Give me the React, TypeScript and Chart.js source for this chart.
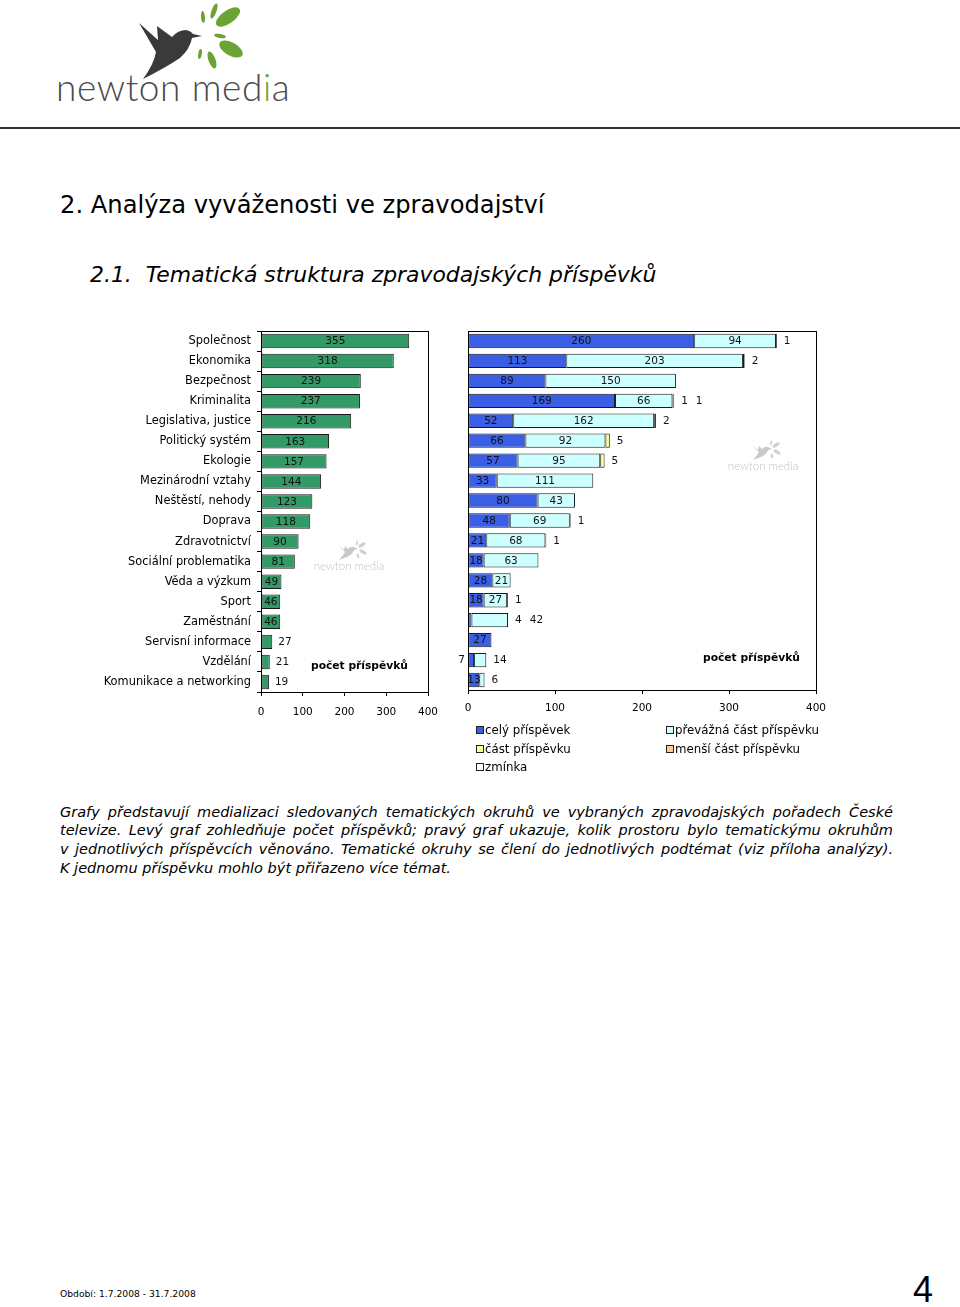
import React, { useEffect, useRef } from 'react';
import { Chart, registerables } from 'chart.js';

Chart.register(...registerables);

// ---------------- data ----------------
const CATEGORIES = [
  'Společnost', 'Ekonomika', 'Bezpečnost', 'Kriminalita', 'Legislativa, justice',
  'Politický systém', 'Ekologie', 'Mezinárodní vztahy', 'Neštěstí, nehody', 'Doprava',
  'Zdravotnictví', 'Sociální problematika', 'Věda a výzkum', 'Sport', 'Zaměstnání',
  'Servisní informace', 'Vzdělání', 'Komunikace a networking',
];
const POCET = [355, 318, 239, 237, 216, 163, 157, 144, 123, 118, 90, 81, 49, 46, 46, 27, 21, 19];
const CELY = [260, 113, 89, 169, 52, 66, 57, 33, 80, 48, 21, 18, 28, 18, 4, 27, 7, 13];
const PREVAZNA = [94, 203, 150, 66, 162, 92, 95, 111, 43, 69, 68, 63, 21, 27, 42, 0, 14, 6];
const CAST = [0, 0, 0, 1, 0, 5, 5, 0, 0, 0, 0, 0, 0, 0, 0, 0, 0, 0];
const MENSI = [0, 0, 0, 0, 0, 0, 0, 0, 0, 0, 0, 0, 0, 0, 0, 0, 0, 0];
const ZMINKA = [1, 2, 0, 1, 2, 0, 0, 0, 0, 1, 1, 0, 0, 1, 0, 0, 0, 0];
const X_TICKS = [0, 100, 200, 300, 400];
const SERIES_NAMES = ['celý příspěvek', 'převážná část příspěvku', 'část příspěvku', 'menší část příspěvku', 'zmínka'];
const SERIES_VALUES = [CELY, PREVAZNA, CAST, MENSI, ZMINKA];
const SERIES_COLORS = ['#3a5fe5', '#ccffff', '#ffff99', '#ffcc99', '#ffffff'];
const GREEN = '#339966';
const AXIS_TITLE = 'počet příspěvků';
// label placement exceptions in the right chart (category -> series index)
const LABEL_FORCE_OUTSIDE: Record<string, number[]> = { 'Zaměstnání': [1], 'Vzdělání': [1] };
const LABEL_BEFORE_AXIS: Record<string, number[]> = { 'Vzdělání': [0] };

const FONT = '"DejaVu Sans", sans-serif';

// ---------------- plugins ----------------
const valueLabels = {
  id: 'valueLabels',
  afterDatasetsDraw(chart: any, _a: any, opts: any) {
    const ctx = chart.ctx;
    ctx.save();
    ctx.font = `${opts.size}px ${FONT}`;
    ctx.fillStyle = '#111';
    ctx.textBaseline = 'middle';
    const labels = chart.data.labels;
    const forceOut = opts.forceOutside || {};
    const before = opts.beforeAxis || {};
    for (let i = 0; i < labels.length; i++) {
      let end = -Infinity;
      let y = 0;
      const outside: string[] = [];
      chart.data.datasets.forEach((ds: any, d: number) => {
        const v = ds.data[i];
        const el = chart.getDatasetMeta(d).data[i];
        if (!v || !el) return;
        const x0 = Math.min(el.base, el.x);
        const x1 = Math.max(el.base, el.x);
        end = Math.max(end, x1);
        y = el.y;
        const t = String(v);
        if ((before[labels[i]] || []).includes(d)) {
          ctx.textAlign = 'right';
          ctx.fillText(t, chart.chartArea.left - 3, el.y + 0.5);
        } else if (x1 - x0 >= opts.minWidth && !(forceOut[labels[i]] || []).includes(d)) {
          ctx.textAlign = 'center';
          ctx.fillText(t, (x0 + x1) / 2, el.y + 0.5);
        } else outside.push(t);
      });
      let x = end + opts.gap;
      ctx.textAlign = 'left';
      outside.forEach((t) => {
        ctx.fillText(t, x, y + 0.5);
        x += ctx.measureText(t).width + opts.spacing;
      });
    }
    ctx.restore();
  },
};

const frame = {
  id: 'frame',
  afterDraw(chart: any) {
    const { left, right, top, bottom } = chart.chartArea;
    const ctx = chart.ctx;
    ctx.save();
    ctx.strokeStyle = '#000';
    ctx.lineWidth = 1;
    ctx.strokeRect(Math.round(left) + 0.5, Math.round(top) + 0.5, Math.round(right - left), Math.round(bottom - top));
    ctx.restore();
  },
};

const xScale = (padding: number) => ({
  min: 0,
  max: 400,
  afterBuildTicks(s: any) {
    s.ticks = X_TICKS.map((v) => ({ value: v }));
  },
  grid: { drawOnChartArea: false, tickLength: 4, color: '#000' },
  border: { color: '#000' },
  ticks: { font: { family: FONT, size: 10.5 }, color: '#000', padding, maxRotation: 0 },
  afterFit(s: any) {
    s.height = 30;
  },
});

// ---------------- components ----------------
function LeftChart() {
  const ref = useRef<HTMLCanvasElement>(null);
  useEffect(() => {
    const chart = new Chart(ref.current!, {
      type: 'bar',
      data: {
        labels: CATEGORIES,
        datasets: [
          {
            data: POCET,
            backgroundColor: GREEN,
            borderColor: '#1a1a1a',
            borderWidth: 1,
            borderSkipped: false,
            categoryPercentage: 1,
            barPercentage: 0.72,
          } as any,
        ],
      },
      options: {
        indexAxis: 'y',
        responsive: false,
        animation: false,
        layout: { padding: { top: 6, right: 22, left: 0, bottom: 0 } },
        plugins: {
          legend: { display: false },
          tooltip: { enabled: false },
          valueLabels: { size: 10.5, minWidth: 15, gap: 6, spacing: 8 },
        } as any,
        scales: {
          x: xScale(10) as any,
          y: {
            grid: { drawOnChartArea: false, tickLength: 4, color: '#000' },
            border: { color: '#000' },
            ticks: { font: { family: FONT, size: 11.4 }, color: '#000', padding: 6, autoSkip: false },
            afterFit(s: any) {
              s.width = 201;
              s.paddingTop = 0;
              s.paddingBottom = 0;
            },
          },
        },
      },
      plugins: [valueLabels, frame],
    });
    return () => chart.destroy();
  }, []);
  return <canvas ref={ref} width={390} height={397} style={{ position: 'absolute', left: 60, top: 325, width: 390, height: 397 }} />;
}

function RightChart() {
  const ref = useRef<HTMLCanvasElement>(null);
  useEffect(() => {
    const chart = new Chart(ref.current!, {
      type: 'bar',
      data: {
        labels: CATEGORIES,
        datasets: SERIES_NAMES.map((name, k) => ({
          label: name,
          data: SERIES_VALUES[k],
          backgroundColor: SERIES_COLORS[k],
          borderColor: '#1a1a1a',
          borderWidth: 1,
          borderSkipped: false,
          categoryPercentage: 1,
          barPercentage: 0.72,
        })) as any,
      },
      options: {
        indexAxis: 'y',
        responsive: false,
        animation: false,
        layout: { padding: { top: 6, right: 44, left: 28, bottom: 0 } },
        plugins: {
          legend: { display: false },
          tooltip: { enabled: false },
          valueLabels: {
            size: 10.5, minWidth: 10, gap: 7, spacing: 8,
            forceOutside: LABEL_FORCE_OUTSIDE, beforeAxis: LABEL_BEFORE_AXIS,
          },
        } as any,
        scales: {
          x: { ...(xScale(8) as any), stacked: true },
          y: { display: false, stacked: true },
        },
      },
      plugins: [valueLabels, frame],
    });
    return () => chart.destroy();
  }, []);
  return <canvas ref={ref} width={420} height={395} style={{ position: 'absolute', left: 440, top: 325, width: 420, height: 395 }} />;
}

function Watermark({ cx, cy }: { cx: number; cy: number }) {
  return (
    <div style={{ position: 'absolute', left: cx - 40, top: cy - 20, width: 80, height: 36, opacity: 0.45 }}>
      <svg width={80} height={22} viewBox="0 0 80 22" style={{ position: 'absolute', left: 0, top: 0 }}>
        <path d="M29,5 L35,10 L36,6 L39,9 Q42,6 45,7 L49,9 L45,10 Q44,14 38,17 L30,20 Q35,14 36,12 Z" fill="#888" />
        <ellipse cx={53} cy={5} rx={4} ry={1.8} transform="rotate(-35 53 5)" fill="#999" />
        <ellipse cx={54} cy={12} rx={4} ry={1.8} transform="rotate(30 54 12)" fill="#999" />
        <ellipse cx={49} cy={16} rx={2.5} ry={1.2} transform="rotate(70 49 16)" fill="#999" />
        <ellipse cx={48} cy={3} rx={2.5} ry={1} transform="rotate(-75 48 3)" fill="#999" />
      </svg>
      <div style={{ position: 'absolute', left: 0, top: 19, width: 80, textAlign: 'center', font: `300 11.5px Lato, ${FONT}`, color: '#777', whiteSpace: 'nowrap' }}>
        newton media
      </div>
    </div>
  );
}

function Logo() {
  return (
    <>
      <svg width={300} height={125} style={{ position: 'absolute', left: 0, top: 0 }}>
        <path
          d="M139,23 L158,40 L157,26 L172,37 Q178,30 186,30 Q191,31 193,34 L202,36 L192,38 Q190,49 180,58 Q165,68 143,79 Q154,64 156,52 Q149,40 139,23 Z"
          fill="#3a3a3a"
        />
        <g fill="#6aa434">
          <ellipse cx={228} cy={17} rx={14} ry={6.5} transform="rotate(-35 228 17)" />
          <ellipse cx={231} cy={49} rx={13} ry={6.5} transform="rotate(30 231 49)" />
          <ellipse cx={212} cy={60} rx={9} ry={3.5} transform="rotate(70 212 60)" />
          <ellipse cx={214} cy={11} rx={8} ry={2.5} transform="rotate(-70 214 11)" />
          <ellipse cx={203} cy={17} rx={6} ry={2} transform="rotate(-95 203 17)" />
          <ellipse cx={220} cy={36} rx={6} ry={2} transform="rotate(10 220 36)" />
          <ellipse cx={200} cy={54} rx={5} ry={1.8} transform="rotate(100 200 54)" />
        </g>
      </svg>
      <div
        style={{
          position: 'absolute',
          left: 56,
          top: 65,
          font: `300 37px Lato, ${FONT}`,
          color: '#4a4a4a',
          letterSpacing: 0.6,
          whiteSpace: 'nowrap',
          lineHeight: '44px',
        }}
      >
        newton med<span style={{ color: '#6aa434' }}>i</span>a
      </div>
    </>
  );
}

const PARAGRAPH = [
  'Grafy představují medializaci sledovaných tematických okruhů ve vybraných zpravodajských pořadech České',
  'televize. Levý graf zohledňuje počet příspěvků; pravý graf ukazuje, kolik prostoru bylo tematickýmu okruhům',
  'v jednotlivých příspěvcích věnováno. Tematické okruhy se člení do jednotlivých podtémat (viz příloha analýzy).',
  'K jednomu příspěvku mohlo být přiřazeno více témat.',
];

export default function App() {
  const legendCols = [476, 666];
  const legendRows = [730, 748.5, 767];
  return (
    <div style={{ position: 'absolute', left: 0, top: 0, width: 960, height: 1307, background: '#fff', overflow: 'hidden', fontFamily: FONT, color: '#000' }}>
      <Logo />
      <div style={{ position: 'absolute', left: 0, top: 127, width: 960, height: 2, background: '#333' }} />
      <div style={{ position: 'absolute', left: 60, top: 191, fontSize: 24.2, lineHeight: '28px', whiteSpace: 'nowrap' }}>
        2. Analýza vyváženosti ve zpravodajství
      </div>
      <div style={{ position: 'absolute', left: 90, top: 262, fontSize: 21.9, lineHeight: '26px', fontStyle: 'italic', whiteSpace: 'pre' }}>
        {'2.1.  Tematická struktura zpravodajských příspěvků'}
      </div>

      <LeftChart />
      <RightChart />

      <Watermark cx={349} cy={560} />
      <Watermark cx={763} cy={460} />

      <div style={{ position: 'absolute', left: 311, top: 659, fontSize: 10.7, fontWeight: 'bold', lineHeight: '14px', whiteSpace: 'nowrap' }}>{AXIS_TITLE}</div>
      <div style={{ position: 'absolute', left: 703, top: 651, fontSize: 10.7, fontWeight: 'bold', lineHeight: '14px', whiteSpace: 'nowrap' }}>{AXIS_TITLE}</div>

      {SERIES_NAMES.map((name, k) => {
        const cx = legendCols[k % 2];
        const cy = legendRows[Math.floor(k / 2)];
        return (
          <React.Fragment key={name}>
            <div style={{ position: 'absolute', left: cx, top: cy - 4, width: 6, height: 6, border: '1px solid #222', background: SERIES_COLORS[k] }} />
            <div style={{ position: 'absolute', left: cx + 9, top: cy - 8, fontSize: 11.8, lineHeight: '16px', whiteSpace: 'nowrap' }}>{name}</div>
          </React.Fragment>
        );
      })}

      <div style={{ position: 'absolute', left: 60, top: 802.5, width: 833, fontSize: 14.5, lineHeight: '18.7px', fontStyle: 'italic' }}>
        {PARAGRAPH.map((line, i) => (
          <div
            key={i}
            style={{
              whiteSpace: 'nowrap',
              textAlign: i < PARAGRAPH.length - 1 ? 'justify' : 'left',
              textAlignLast: i < PARAGRAPH.length - 1 ? 'justify' : 'left',
            } as any}
          >
            {line}
          </div>
        ))}
      </div>

      <div style={{ position: 'absolute', left: 60, top: 1288, fontSize: 9.2, lineHeight: '12px', whiteSpace: 'nowrap' }}>Období: 1.7.2008 - 31.7.2008</div>
      <div style={{ position: 'absolute', left: 913, top: 1272, font: '36px "Liberation Sans", Arial, sans-serif', lineHeight: '36px' }}>4</div>
    </div>
  );
}
